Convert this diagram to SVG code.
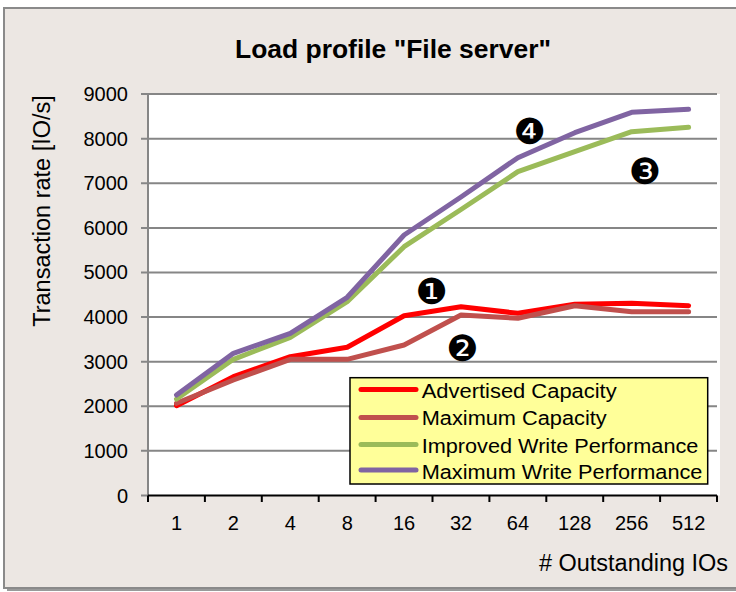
<svg xmlns="http://www.w3.org/2000/svg" width="736" height="592" viewBox="0 0 736 592">
<defs>
<style>
text{font-family:"Liberation Sans",Arial,sans-serif;fill:#000}
.tick{font-size:20px;text-anchor:end}
.xt{font-size:20px;text-anchor:middle}
.grid{stroke:#868686;stroke-width:2;fill:none}
.series{fill:none;stroke-width:5;stroke-linejoin:round;stroke-linecap:round}
.leg{font-size:20px}
.badge{font-family:"DejaVu Sans",sans-serif;font-size:36px;text-anchor:middle}
</style>
</defs>
<rect x="0" y="0" width="736" height="592" fill="#ffffff"/>
<rect x="7" y="11" width="740" height="580" fill="#9a9a9a"/>
<rect x="4" y="8" width="740" height="580" fill="#ECE7E3" stroke="#8a8a8a" stroke-width="2"/>
<text x="393" y="58" font-size="25.5" font-weight="bold" text-anchor="middle" textLength="316" lengthAdjust="spacingAndGlyphs">Load profile "File server"</text>
<rect x="148" y="94" width="572" height="401.5" fill="#ffffff"/>
<g id="grid">
<path class="grid" d="M141 94.1H717M141 138.7H717M141 183.2H717M141 227.9H717M141 272.4H717M141 317H717M141 361.7H717M141 406.2H717M141 450.8H717"/>
<path class="grid" d="M148 94V495.5M141 495.5H148"/>
</g>
<g id="yticks">
<text class="tick" x="128" y="101">9000</text>
<text class="tick" x="128" y="145.7">8000</text>
<text class="tick" x="128" y="190.2">7000</text>
<text class="tick" x="128" y="234.9">6000</text>
<text class="tick" x="128" y="279.4">5000</text>
<text class="tick" x="128" y="324">4000</text>
<text class="tick" x="128" y="368.7">3000</text>
<text class="tick" x="128" y="413.2">2000</text>
<text class="tick" x="128" y="457.8">1000</text>
<text class="tick" x="128" y="502.5">0</text>
</g>
<text transform="translate(50,211) rotate(-90)" font-size="23.5" text-anchor="middle">Transaction rate [IO/s]</text>
<g id="xaxis">
<path d="M148 495.5H717M148 495.5V502M204.9 495.5V502M261.8 495.5V502M318.7 495.5V502M375.6 495.5V502M432.5 495.5V502M489.4 495.5V502M546.3 495.5V502M603.2 495.5V502M660.1 495.5V502M717 495.5V502" stroke="#000" stroke-width="2" fill="none"/>
<text class="xt" x="176.5" y="530">1</text>
<text class="xt" x="233.4" y="530">2</text>
<text class="xt" x="290.3" y="530">4</text>
<text class="xt" x="347.2" y="530">8</text>
<text class="xt" x="404.1" y="530">16</text>
<text class="xt" x="461" y="530">32</text>
<text class="xt" x="517.9" y="530">64</text>
<text class="xt" x="574.8" y="530">128</text>
<text class="xt" x="631.7" y="530">256</text>
<text class="xt" x="688.6" y="530">512</text>
</g>
<text x="728" y="571" font-size="23.5" text-anchor="end" textLength="189" lengthAdjust="spacingAndGlyphs"># Outstanding IOs</text>
<g id="connectors">
<polyline id="advertised" class="series" stroke="#FF0000" points="176.5,405.7 233.4,376.7 290.3,356.7 347.2,347.3 404.1,315.7 461,306.7 517.9,313.3 574.8,304.3 631.7,303.3 688.6,305.7"/>
<polyline id="maxcap" class="series" stroke="#C0504D" points="176.5,403.3 233.4,380 290.3,359.3 347.2,359.3 404.1,345 461,315 517.9,318.3 574.8,305.7 631.7,311.7 688.6,311.7"/>
<polyline id="improved" class="series" stroke="#9BBB59" points="176.5,399 233.4,359.3 290.3,337.3 347.2,301.7 404.1,246.7 461,209.5 517.9,171.7 574.8,151.7 631.7,131.7 688.6,127.3"/>
<polyline id="maxwrite" class="series" stroke="#8064A2" points="176.5,395 233.4,353.3 290.3,333.3 347.2,297.3 404.1,235 461,197 517.9,157.7 574.8,132.7 631.7,112.3 688.6,109.3"/>
</g>
<g id="badge1"><text class="badge" x="431.3" y="303.7">❶</text></g>
<g id="badge2"><text class="badge" x="462.3" y="361">❷</text></g>
<g id="badge3"><text class="badge" x="645" y="184.4">❸</text></g>
<g id="badge4"><text class="badge" x="529.3" y="144.4">❹</text></g>
<g id="legend">
<rect x="350" y="377.7" width="357.7" height="106.3" fill="#FFFF99" stroke="#000" stroke-width="1.5"/>
<path d="M361 389.5H416" stroke="#FF0000" stroke-width="5" stroke-linecap="round"/>
<path d="M361 417.5H416" stroke="#C0504D" stroke-width="5" stroke-linecap="round"/>
<path d="M361 444.5H416" stroke="#9BBB59" stroke-width="5" stroke-linecap="round"/>
<path d="M361 470H416" stroke="#8064A2" stroke-width="5" stroke-linecap="round"/>
<text class="leg" x="421.7" y="397.7" textLength="195" lengthAdjust="spacingAndGlyphs">Advertised Capacity</text>
<text class="leg" x="421.7" y="425" textLength="185" lengthAdjust="spacingAndGlyphs">Maximum Capacity</text>
<text class="leg" x="421.7" y="452.5" textLength="276.7" lengthAdjust="spacingAndGlyphs">Improved Write Performance</text>
<text class="leg" x="421.7" y="479.3" textLength="280.7" lengthAdjust="spacingAndGlyphs">Maximum Write Performance</text>
</g>
</svg>
